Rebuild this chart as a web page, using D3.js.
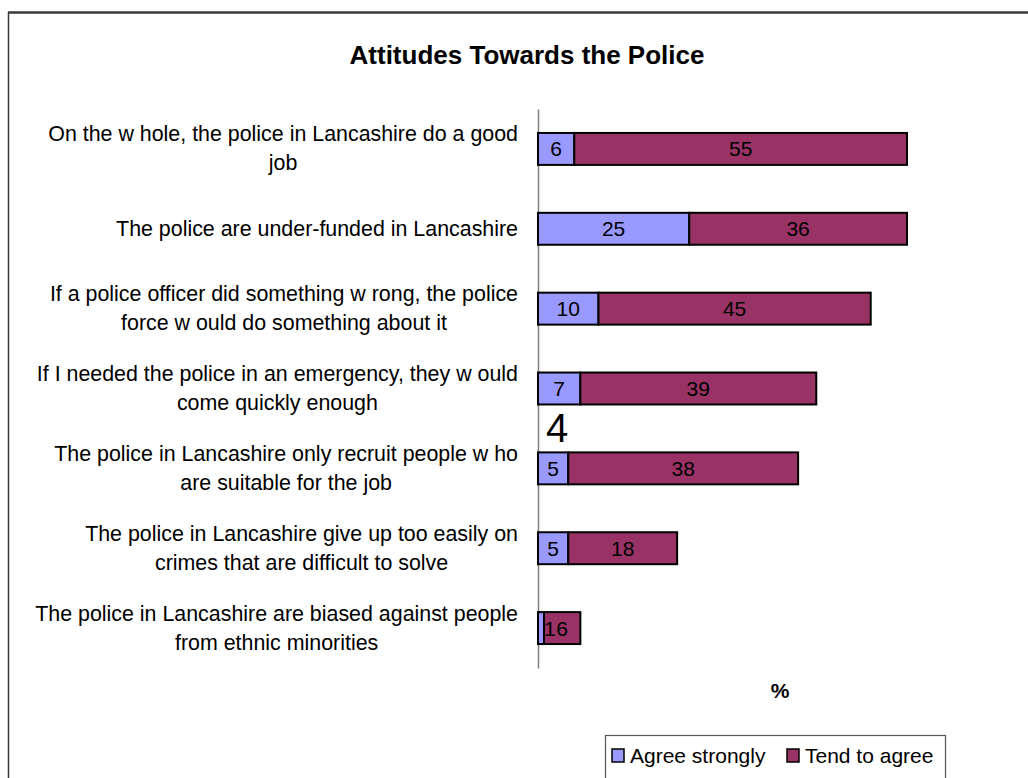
<!DOCTYPE html>
<html>
<head>
<meta charset="utf-8">
<script src="https://cdn.jsdelivr.net/npm/d3@7"></script>
<style>
  html, body { margin: 0; padding: 0; background: #fff; }
  svg { display: block; font-family: "Liberation Sans", Arial, sans-serif; }
</style>
</head>
<body>
<svg id="chart" width="1028" height="778"></svg>
<script>
// Survey statements (each entry holds the wrapped lines of the label)
const statements = [
  ["On the w hole, the police in Lancashire do a good", "job"],
  ["The police are under-funded in Lancashire"],
  ["If a police officer did something w rong, the police", "force w ould do something about it"],
  ["If I needed the police in an emergency, they w ould", "come quickly enough"],
  ["The police in Lancashire only recruit people w ho", "are suitable for the job"],
  ["The police in Lancashire give up too easily on", "crimes that are difficult to solve"],
  ["The police in Lancashire are biased against people", "from ethnic minorities"]
];
const agreeStrongly = [6, 25, 10, 7, 5, 5, 1];
const tendToAgree   = [55, 36, 45, 39, 38, 18, 6];
const seriesNames   = ["Agree strongly", "Tend to agree"];
const seriesColors  = ["#9999FF", "#993366"];
const chartTitle    = "Attitudes Towards the Police";
const axisTitle     = "%";
const strayLabel    = "4";

const svg = d3.select("#chart");

// Outer chart frame (runs off the right and bottom edges)
svg.append("line").attr("x1", 8).attr("x2", 1040).attr("y1", 12.5).attr("y2", 12.5)
  .attr("stroke", "#3a3a3a").attr("stroke-width", 2.5);
svg.append("line").attr("x1", 8.5).attr("x2", 8.5).attr("y1", 12).attr("y2", 790)
  .attr("stroke", "#3a3a3a").attr("stroke-width", 1.5);

// Title
svg.append("text").attr("x", 527).attr("y", 64).attr("text-anchor", "middle")
  .attr("font-size", 26).attr("font-weight", "bold").text(chartTitle);

const rows = statements.map((lines, i) => ({
  id: i, lines, a: agreeStrongly[i], t: tendToAgree[i]
}));

const x = d3.scaleLinear().domain([0, 61]).range([538, 907]);
const y = d3.scaleBand().domain(rows.map(d => d.id)).range([109, 668])
  .paddingInner(0.6).paddingOuter(0.3);

// Category axis line
svg.append("g").attr("transform", `translate(${x(0)},0)`)
  .call(d3.axisLeft(y).tickSize(0).tickFormat(""))
  .call(g => g.select(".domain").attr("stroke", "#808080").attr("stroke-width", 1.5));

// Category labels: each wrapped block is centred and right-aligned against the axis
const labelRight = 518;
const lineH = 29;
rows.forEach(d => {
  const cy = y(d.id) + y.bandwidth() / 2;
  const g = svg.append("g");
  const texts = d.lines.map((ln, k) => g.append("text")
    .attr("font-size", 21.4)
    .attr("text-anchor", "middle")
    .attr("y", cy + (k - (d.lines.length - 1) / 2) * lineH + 7)
    .text(ln));
  const maxW = d3.max(texts, t => t.node().getComputedTextLength());
  texts.forEach(t => t.attr("x", labelRight - maxW / 2));
});

// Stacked bars
const stacked = d3.stack().keys(["a", "t"])(rows);
stacked.forEach((layer, si) => {
  const g = svg.append("g");
  g.selectAll("rect").data(layer).join("rect")
    .attr("x", d => x(d[0]))
    .attr("y", d => y(d.data.id))
    .attr("width", d => x(d[1]) - x(d[0]))
    .attr("height", y.bandwidth())
    .attr("fill", seriesColors[si])
    .attr("stroke", "#000")
    .attr("stroke-width", 2);
});

// Value labels inside the segments
stacked.forEach(layer => {
  layer.forEach(d => {
    const v = d[1] - d[0];
    const t = svg.append("text")
      .attr("font-size", 21)
      .attr("text-anchor", "middle")
      .attr("y", y(d.data.id) + y.bandwidth() / 2 + 7.5)
      .text(v);
    const w = t.node().getComputedTextLength();
    const cx = Math.max((x(d[0]) + x(d[1])) / 2, x(d[0]) + w / 2 + 6);
    t.attr("x", cx);
  });
});

// Free-floating label between the 4th and 5th statements
svg.append("text").attr("x", 557).attr("y", 442).attr("text-anchor", "middle")
  .attr("font-size", 40).text(strayLabel);

// Value axis title
svg.append("text").attr("x", 780).attr("y", 698).attr("text-anchor", "middle")
  .attr("font-size", 21).attr("font-weight", "bold").text(axisTitle);

// Legend
const legend = svg.append("g");
legend.append("rect").attr("x", 605.5).attr("y", 735.5).attr("width", 340).attr("height", 60)
  .attr("fill", "#fff").attr("stroke", "#555").attr("stroke-width", 1.2);
const legendX = [612, 787];
seriesNames.forEach((name, i) => {
  legend.append("rect").attr("x", legendX[i]).attr("y", 749).attr("width", 12).attr("height", 13)
    .attr("fill", seriesColors[i]).attr("stroke", "#000").attr("stroke-width", 1.5);
  legend.append("text").attr("x", legendX[i] + 18).attr("y", 763)
    .attr("font-size", 21).text(name);
});
</script>
</body>
</html>
